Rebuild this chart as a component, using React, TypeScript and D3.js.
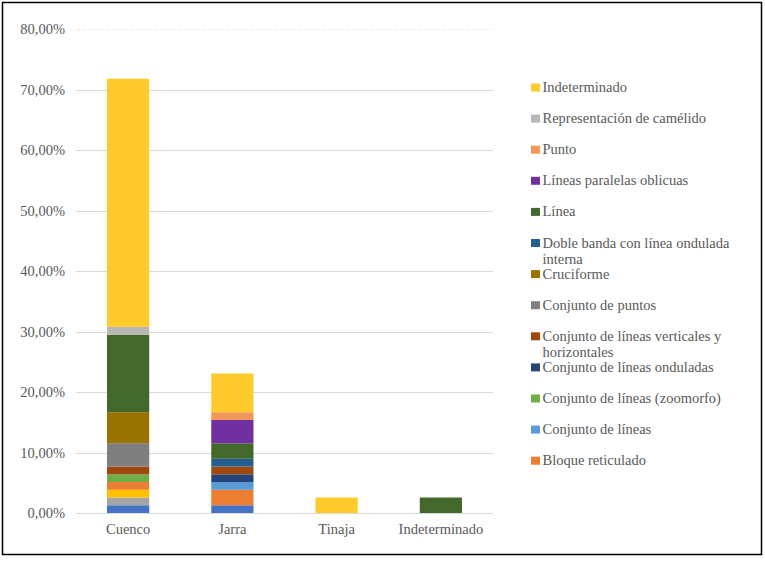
import React from "react";
import * as d3 from "d3";

const categories = ["Cuenco", "Jarra", "Tinaja", "Indeterminado"];

// Series in stacking order (bottom to top). The first three are not shown in the (truncated) legend.
const seriesNames = [
  "s1",
  "s2",
  "s3",
  "Bloque reticulado",
  "Conjunto de líneas",
  "Conjunto de líneas (zoomorfo)",
  "Conjunto de líneas onduladas",
  "Conjunto de líneas verticales y horizontales",
  "Conjunto de puntos",
  "Cruciforme",
  "Doble banda con línea ondulada interna",
  "Línea",
  "Líneas paralelas oblicuas",
  "Punto",
  "Representación de camélido",
  "Indeterminado",
];
const seriesColors = [
  "#4472C4",
  "#A5A5A5",
  "#FFC000",
  "#ED7D31",
  "#5B9BD5",
  "#70AD47",
  "#264478",
  "#9E480E",
  "#7F7F7F",
  "#997300",
  "#255E91",
  "#43682B",
  "#7030A0",
  "#F1975A",
  "#B7B7B7",
  "#FFCA2C",
];
const showInLegend = [false, false, false, true, true, true, true, true, true, true, true, true, true, true, true, true];

// Percent values per category, in series order
const cuencoValues = [1.28, 1.28, 1.28, 1.28, 0, 1.28, 0, 1.28, 3.85, 5.13, 0, 12.82, 0, 0, 1.28, 41.03];
const jarraValues = [1.28, 0, 0, 2.56, 1.28, 0, 1.28, 1.28, 0, 0, 1.28, 2.56, 3.85, 1.28, 0, 6.41];
const tinajaValues = [0, 0, 0, 0, 0, 0, 0, 0, 0, 0, 0, 0, 0, 0, 0, 2.56];
const indetValues = [0, 0, 0, 0, 0, 0, 0, 0, 0, 0, 0, 2.56, 0, 0, 0, 0];

const yTicks = [0, 10, 20, 30, 40, 50, 60, 70, 80];
const yTickLabels = ["0,00%", "10,00%", "20,00%", "30,00%", "40,00%", "50,00%", "60,00%", "70,00%", "80,00%"];

// Legend label lines (wrapped as in reference)
const legendLines: Record<string, string[]> = {
  "Doble banda con línea ondulada interna": ["Doble banda con línea ondulada", "interna"],
  "Conjunto de líneas verticales y horizontales": ["Conjunto de líneas verticales y", "horizontales"],
};

export default function App() {
  const W = 765;
  const H = 561;
  const left = 76;
  const right = 493;
  const top = 29;
  const bottom = 513;
  const font = '"Liberation Serif", "Times New Roman", "DejaVu Serif", serif';
  const textColor = "#595959";
  const textStyle = { fontFamily: font, fontSize: "14.5px" };

  const allValues = [cuencoValues, jarraValues, tinajaValues, indetValues];
  const rows = categories.map((c, ci) => {
    const row: Record<string, number | string> = { cat: c };
    seriesNames.forEach((s, si) => (row[s] = allValues[ci][si]));
    return row;
  });
  const stack = d3.stack<Record<string, number | string>>().keys(seriesNames).value((d, k) => d[k] as number);
  const stacked = stack(rows);

  const x = d3.scaleBand<string>().domain(categories).range([left, right]).paddingInner(0.595).paddingOuter(0.2975);
  const y = d3.scaleLinear().domain([0, 80]).range([bottom, top]);

  const legendItems = seriesNames
    .map((s, i) => ({ name: s, color: seriesColors[i], show: showInLegend[i] }))
    .filter((d) => d.show)
    .reverse();

  return (
    <svg width={W} height={H} style={{ position: "absolute", left: 0, top: 0, background: "#fff" }}>
      <rect x={0} y={0} width={W} height={H} fill="#fff" />
      <rect x={2.5} y={2.5} width={759} height={552} fill="none" stroke="#000" strokeWidth={1.5} />
      {yTicks.map((t, i) => (
        <g key={t}>
          {t > 0 && (
            <line
              x1={left}
              x2={right}
              y1={Math.round(y(t)) + 0.5}
              y2={Math.round(y(t)) + 0.5}
              stroke="#D9D9D9"
              strokeWidth={1}
              strokeDasharray={t === 80 ? "1,2" : undefined}
            />
          )}
          <text x={65} y={y(t) + 5} textAnchor="end" style={textStyle} fill={textColor}>
            {yTickLabels[i]}
          </text>
        </g>
      ))}
      {stacked.map((layer, si) => (
        <g key={layer.key} fill={seriesColors[si]}>
          {layer.map((d, ci) =>
            d[1] - d[0] > 0 ? (
              <rect
                key={ci}
                x={x(categories[ci])!}
                width={x.bandwidth()}
                y={y(d[1])}
                height={y(d[0]) - y(d[1])}
              />
            ) : null
          )}
        </g>
      ))}
      <line x1={left} x2={right} y1={bottom + 0.5} y2={bottom + 0.5} stroke="#D9D9D9" strokeWidth={1.2} />
      {categories.map((c) => (
        <text key={c} x={x(c)! + x.bandwidth() / 2} y={534} textAnchor="middle" style={textStyle} fill={textColor}>
          {c}
        </text>
      ))}
      {legendItems.map((d, i) => {
        const cy = 87.5 + i * 31.1;
        const lines = legendLines[d.name] || [d.name];
        return (
          <g key={d.name}>
            <rect x={531} y={cy - 4} width={9} height={8} fill={d.color} />
            {lines.map((ln, li) => (
              <text key={li} x={542.5} y={cy + 4.5 + li * 16} style={textStyle} fill={textColor}>
                {ln}
              </text>
            ))}
          </g>
        );
      })}
    </svg>
  );
}
